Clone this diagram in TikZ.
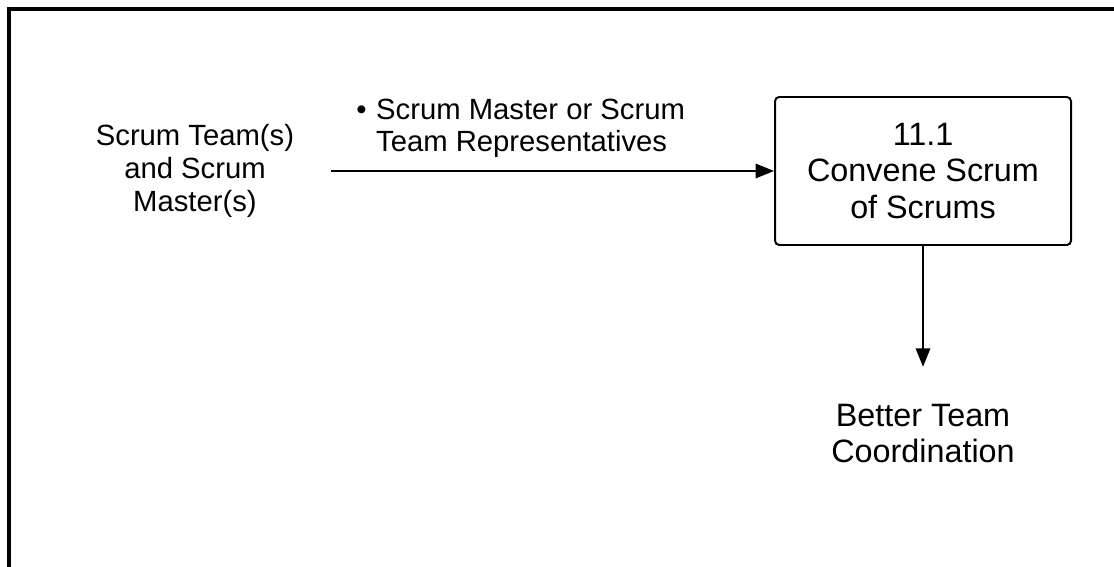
\documentclass[tikz,border=0pt]{standalone}
\usepackage{fontspec}
\setmainfont{Liberation Sans}
\usepackage{tikz}
\usetikzlibrary{arrows.meta, positioning}

\begin{document}
\begin{tikzpicture}[node distance=1.5cm, >={Triangle[length=2.3mm, width=1.8mm]},
        smalltext/.style={font=\fontsize{10.4}{11.7}\selectfont, align=center},
        bigtext/.style={font=\fontsize{11.5}{13.1}\selectfont, align=center},
        flow/.style={->, line width=0.7pt}]
        \useasboundingbox (0,0) rectangle (13.925,7.075);
        \draw [line width=1.4pt] (14,6.9625) -- (0.1125,6.9625) -- (0.1125,-0.1);

        \node [rectangle, draw, line width=0.7pt, rounded corners=1.5pt, minimum width=3.7cm, minimum height=1.85cm, inner sep=0pt, bigtext] (convene) at (11.5375,4.9375) {11.1\\Convene Scrum\\of Scrums};
        \node [smalltext, left=5.875cm of convene] (teams) {Scrum Team(s)\\and Scrum\\Master(s)};
        \node [bigtext, below=1.85cm of convene] (coordination) {Better Team\\Coordination};

        \draw [flow, shorten <=0.34cm] (teams) -- node [pos=0, anchor=south west, xshift=0.89cm, yshift=0.15cm, inner sep=0pt, smalltext, align=left] (reps) {\llap{\textbullet\hspace{1.2mm}}Scrum Master or Scrum\\Team Representatives} (convene);
        \draw [flow, shorten >=0.34cm] (convene) -- (coordination);
    \end{tikzpicture}
\end{document}
